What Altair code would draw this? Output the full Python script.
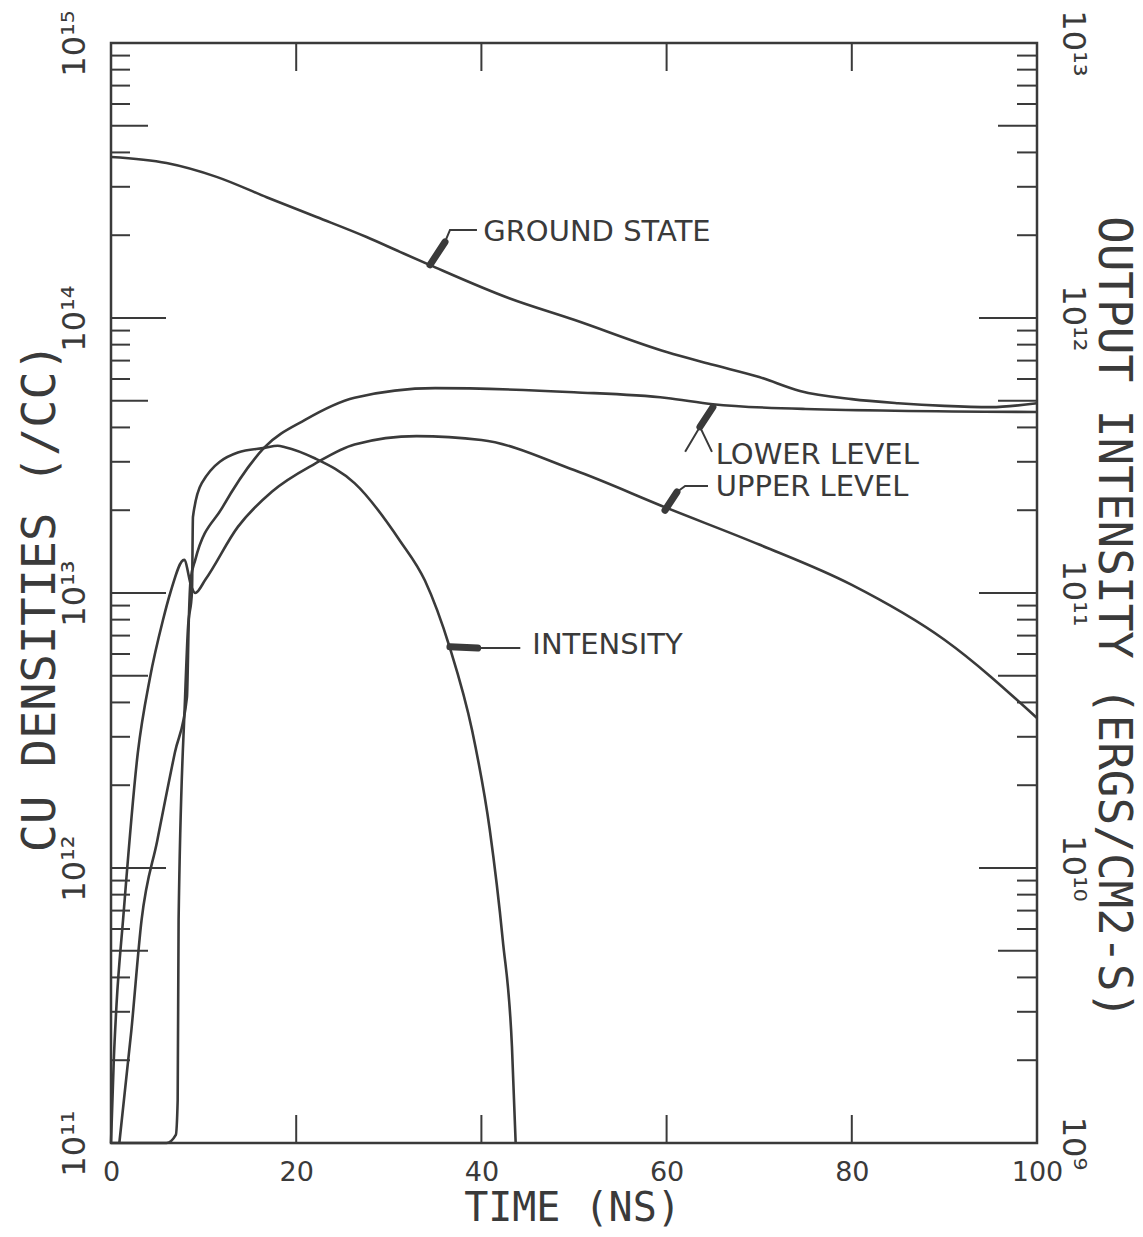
import altair as alt
import pandas as pd

# ---------------- data ----------------
time_ground = [0, 6, 11.4, 16.8, 22.2, 27.6, 31.2, 34.4, 43, 50, 60, 65, 70, 74.4, 80, 85, 90, 95, 100]
ground_state = [3.85e14, 3.66e14, 3.26e14, 2.75e14, 2.33e14, 1.97e14, 1.74e14, 1.56e14, 1.18e14,
                9.85e13, 7.52e13, 6.76e13, 6.10e13, 5.43e13, 5.07e13, 4.90e13, 4.79e13, 4.74e13, 4.90e13]

time_upper = [0, 0.3, 0.6, 1.3, 2.9, 4.2, 5.6, 6.4, 7.9, 8.7, 9.1, 10.2, 13.7, 17.4, 22, 26.3,
              33, 40, 50, 60, 70, 80, 90, 100]
upper_level = [1e11, 2.0e11, 3.2e11, 6.46e11, 2.63e12, 4.9e12, 7.94e12, 1.0e13, 1.32e13, 1.05e13,
               1.0e13, 1.12e13, 1.74e13, 2.34e13, 2.95e13, 3.47e13, 3.72e13, 3.6e13, 2.8e13,
               2.04e13, 1.5e13, 1.07e13, 6.76e12, 3.51e12]

time_lower = [0.9, 2.2, 3.3, 5.0, 6.9, 8.2, 8.4, 8.6, 9.1, 12, 16.6, 21, 26.3, 35, 50, 60, 65, 75, 100]
lower_level = [1e11, 2.57e11, 6.46e11, 1.26e12, 2.63e12, 4.17e12, 7.94e12, 1.12e13, 1.32e13,
               2.04e13, 3.39e13, 4.27e13, 5.13e13, 5.56e13, 5.37e13, 5.12e13, 4.86e13, 4.67e13, 4.55e13]

time_intensity = [0, 6.0, 7.0, 7.2, 7.3, 8.0, 8.3, 8.75, 8.85, 9.8, 13.7, 16.6, 18.0, 18.8, 22,
                  26.3, 31.2, 33.9, 36.6, 39.0, 40.9, 42.3, 43.3, 43.7]
intensity = [1e9, 1e9, 1.07e9, 1.43e9, 6.46e9, 4.17e10, 7.33e10, 1.02e11, 1.89e11, 2.51e11,
             3.24e11, 3.37e11, 3.43e11, 3.39e11, 3.09e11, 2.51e11, 1.55e11, 1.11e11, 6.31e10,
             3.16e10, 1.38e10, 5.5e9, 2.24e9, 1e9]

x_tick_values = [0, 20, 40, 60, 80, 100]
x_inner_ticks = [20, 40, 60, 80]
left_decades = [1e11, 1e12, 1e13, 1e14, 1e15]
right_decades = [1e9, 1e10, 1e11, 1e12, 1e13]

label_text = ["GROUND  STATE", "LOWER LEVEL", "UPPER LEVEL", "INTENSITY"]
label_time = [40.2, 65.3, 65.3, 45.5]
label_density = [2.06e14, 3.18e13, 2.43e13, 6.47e12]

# pointer strokes: thick "pen" tip and thin leader, per label
tip_label = ["G", "G", "L", "L", "U", "U", "I", "I"]
tip_time = [34.45, 36.07, 65.0, 63.6, 59.83, 61.12, 36.6, 39.6]
tip_density = [1.56e14, 1.89e14, 4.74e13, 4.02e13, 2.0e13, 2.33e13, 6.37e12, 6.31e12]

lead_label = ["G", "G", "G", "L", "L", "L", "U", "U", "U", "I", "I"]
lead_time = [36.07, 36.61, 39.52, 63.6, 62.0, 64.9, 61.12, 62.0, 64.47, 39.6, 44.2]
lead_density = [1.89e14, 2.09e14, 2.09e14, 4.02e13, 3.26e13, 3.26e13, 2.33e13, 2.45e13, 2.45e13,
                6.31e12, 6.31e12]

# ---------------- chart ----------------
W, H = 926, 1100
INK = "#3a3a3a"
LABEL_FONT = "DejaVu Sans"
TITLE_FONT = "DejaVu Sans Mono"

SUP = {"0": "⁰", "1": "¹", "2": "²", "3": "³", "4": "⁴", "5": "⁵", "6": "⁶", "7": "⁷", "8": "⁸", "9": "⁹"}


def sup(n):
    return "".join(SUP[c] for c in str(n))


def pow_expr(exps):
    expr = "''"
    for e in reversed(exps):
        expr = f"(datum.value < {1.5 * 10 ** e:.3e} ? '10{sup(e)}' : {expr})"
    return expr


xs = alt.Scale(domain=[0, 100], nice=False, zero=False)
ys_left = alt.Scale(type="log", domain=[1e11, 1e15], nice=False)
ys_right = alt.Scale(type="log", domain=[1e9, 1e13], nice=False)

dens = pd.concat([
    pd.DataFrame({"t": time_ground, "n": ground_state, "s": "ground"}),
    pd.DataFrame({"t": time_upper, "n": upper_level, "s": "upper"}),
    pd.DataFrame({"t": time_lower, "n": lower_level, "s": "lower"}),
])
inten = pd.DataFrame({"t": time_intensity, "i": intensity})

x_axis = alt.Axis(values=x_tick_values, title="TIME (NS)", domain=False, ticks=False, grid=False,
                  labelFont=LABEL_FONT, labelFontSize=27, labelColor=INK, labelPadding=16,
                  labelFlush=False, labelOverlap=False,
                  titleFont=TITLE_FONT, titleFontSize=40, titleFontWeight="normal",
                  titleColor=INK, titleX=461, titleY=65, titleAlign="center", titleBaseline="middle")

left_axis = alt.Axis(values=left_decades, labelExpr=pow_expr([11, 12, 13, 14, 15]), title="CU DENSITIES (/CC)",
                     domain=False, ticks=False, grid=False, labelFont=LABEL_FONT, labelFontSize=32,
                     labelColor=INK, labelAngle=-90, labelAlign="center", labelBaseline="bottom",
                     labelPadding=20, labelFlush=False, labelOverlap=False,
                     titleFont=TITLE_FONT, titleFontSize=47, titleFontWeight="normal", titleColor=INK,
                     titleAngle=-90, titleX=-71, titleY=554, titleAlign="center", titleBaseline="middle")

right_axis = alt.Axis(orient="right", values=right_decades, labelExpr=pow_expr([9, 10, 11, 12, 13]),
                      title="OUTPUT INTENSITY (ERGS/CM2-S)", domain=False, ticks=False, grid=False,
                      labelFont=LABEL_FONT, labelFontSize=32, labelColor=INK, labelAngle=90,
                      labelAlign="center", labelBaseline="bottom", labelPadding=18, labelFlush=False,
                      labelOverlap=False, titleFont=TITLE_FONT, titleFontSize=46, titleFontWeight="normal",
                      titleColor=INK, titleAngle=90, titleX=75, titleY=574, titleAlign="center",
                      titleBaseline="middle")

density_lines = alt.Chart(dens).mark_line(color=INK, strokeWidth=2.6, interpolate="monotone").encode(
    x=alt.X("t:Q", scale=xs, axis=x_axis),
    y=alt.Y("n:Q", scale=ys_left, axis=left_axis),
    detail="s:N",
)

intensity_line = alt.Chart(inten).mark_line(color=INK, strokeWidth=2.6, interpolate="monotone").encode(
    x=alt.X("t:Q", scale=xs, axis=None),
    y=alt.Y("i:Q", scale=ys_right, axis=right_axis),
)


def yticks(values, scale, x0, x1):
    return alt.Chart(pd.DataFrame({"v": values})).mark_rule(color=INK, strokeWidth=2).encode(
        y=alt.Y("v:Q", scale=scale, axis=None), x=alt.value(x0), x2=alt.value(x1))


left_major = [10 ** d for d in range(12, 15)]
left_five = [5 * 10 ** d for d in range(11, 15)]
left_minor = [m * 10 ** d for d in range(11, 15) for m in [2, 3, 4, 6, 7, 8, 9]]
right_major = [10 ** d for d in range(10, 13)]
right_five = [5 * 10 ** d for d in range(9, 13)]
right_minor = [m * 10 ** d for d in range(9, 13) for m in [2, 3, 4, 6, 7, 8, 9]]

tick_layers = [
    yticks(left_major, ys_left, 0, 55),
    yticks(left_five, ys_left, 0, 37),
    yticks(left_minor, ys_left, 0, 19),
    yticks(right_major, ys_right, W, W - 58),
    yticks(right_five, ys_right, W, W - 39),
    yticks(right_minor, ys_right, W, W - 20),
]
xt = pd.DataFrame({"v": x_inner_ticks})
tick_layers.append(alt.Chart(xt).mark_rule(color=INK, strokeWidth=2).encode(
    x=alt.X("v:Q", scale=xs, axis=None), y=alt.value(0), y2=alt.value(28)))
tick_layers.append(alt.Chart(xt).mark_rule(color=INK, strokeWidth=2).encode(
    x=alt.X("v:Q", scale=xs, axis=None), y=alt.value(H), y2=alt.value(H - 28)))

tips = alt.Chart(pd.DataFrame({"k": tip_label, "t": tip_time, "n": tip_density})).mark_line(
    color=INK, strokeWidth=7, strokeCap="round").encode(
    x=alt.X("t:Q", scale=xs, axis=None), y=alt.Y("n:Q", scale=ys_left, axis=None), detail="k:N")

leads = alt.Chart(pd.DataFrame({"k": lead_label, "t": lead_time, "n": lead_density})).mark_line(
    color=INK, strokeWidth=2).encode(
    x=alt.X("t:Q", scale=xs, axis=None), y=alt.Y("n:Q", scale=ys_left, axis=None), detail="k:N",
    order=alt.value(0))

labels = alt.Chart(pd.DataFrame({"txt": label_text, "t": label_time, "n": label_density})).mark_text(
    align="left", baseline="middle", font=LABEL_FONT, fontSize=29, color=INK).encode(
    x=alt.X("t:Q", scale=xs, axis=None), y=alt.Y("n:Q", scale=ys_left, axis=None), text="txt:N")

chart = alt.layer(density_lines, intensity_line, *tick_layers, tips, leads, labels).resolve_scale(
    y="independent"
).resolve_axis(
    x="independent"
).properties(
    width=W, height=H,
    autosize=alt.AutoSizeParams(type="none"),
    padding={"left": 111, "top": 43, "right": 106, "bottom": 94},
    background="white",
).configure_view(stroke=INK, strokeWidth=2.5)

chart.save("out.html", embed_options={"renderer": "svg", "actions": False})
